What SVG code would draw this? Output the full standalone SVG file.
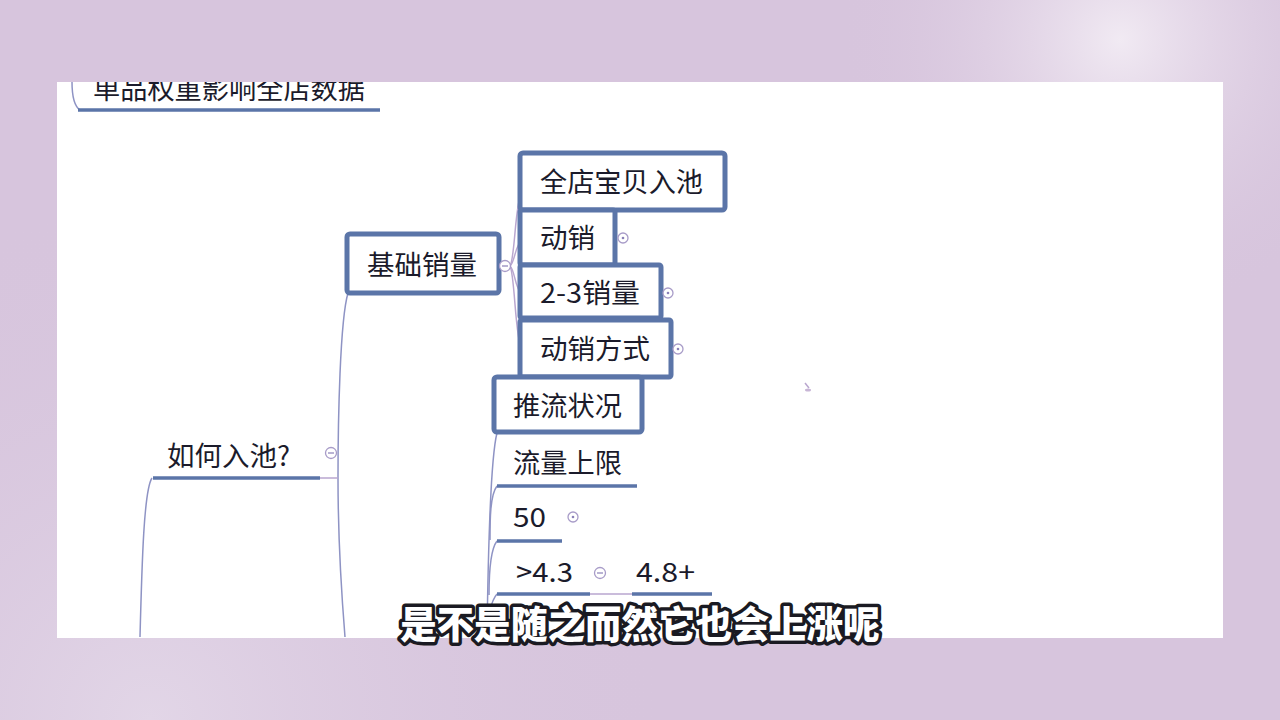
<svg xmlns="http://www.w3.org/2000/svg" width="1280" height="720" viewBox="0 0 1280 720">
<defs>
<radialGradient id="glowTR" cx="1120" cy="40" r="280" gradientUnits="userSpaceOnUse">
<stop offset="0" stop-color="#f1eaf3"/><stop offset="1" stop-color="#d7c5dd" stop-opacity="0"/>
</radialGradient>
<radialGradient id="glowBL" cx="150" cy="720" r="520" gradientUnits="userSpaceOnUse">
<stop offset="0" stop-color="#e2d6e7"/><stop offset="1" stop-color="#d7c5dd" stop-opacity="0"/>
</radialGradient>
<clipPath id="panel"><rect x="57" y="82" width="1166" height="556"/></clipPath>
<style>
.t{font-family:"Noto Sans CJK SC","Noto Sans",sans-serif;fill:#1b1b2b;font-size:27px;}
.box{fill:#ffffff;stroke:#5b75a8;stroke-width:5;}
.ul{stroke:#5b75a8;stroke-width:3.5;fill:none;}
.thin{stroke:#b9a6cf;stroke-width:1.5;fill:none;}
.vln{stroke:#8e93c4;stroke-width:1.5;fill:none;}
.tog{fill:#fff;stroke:#a89cc8;stroke-width:1.3;}
.sub{font-family:"Noto Sans CJK SC",sans-serif;font-weight:900;font-size:38px;fill:#ffffff;stroke:#1a1a22;stroke-width:7;paint-order:stroke;stroke-linejoin:round;}
</style>
</defs>
<rect width="1280" height="720" fill="#d7c5dd"/>
<rect width="1280" height="720" fill="url(#glowTR)"/>
<rect width="1280" height="720" fill="url(#glowBL)"/>
<rect x="57" y="82" width="1166" height="556" fill="#ffffff"/>

<g clip-path="url(#panel)">
<g id="connectors">
<path class="vln" d="M72,82 C72,96 74,106 80,110"/>
<path class="vln" d="M152,478 C144,490 142,560 140,637"/>
<path class="vln" d="M348,293 C340,320 338,420 338,478 C338,540 342,600 345,637"/>
<path class="thin" d="M320,478 L338,478"/>
<path class="thin" d="M500,266 L508,266 M510,266 C515,260 515,200 522,192"/>
<path class="thin" d="M510,266 C515,262 515,245 522,240"/>
<path class="thin" d="M510,266 C515,270 515,290 522,294"/>
<path class="thin" d="M510,266 C515,275 515,340 522,350"/>
<path class="vln" d="M497,433 C490,460 488,560 487,637"/>
<path class="vln" d="M497,486 C490,495 490,520 490,540"/>
<path class="vln" d="M497,541 C490,550 489,575 489,595"/>
<path class="vln" d="M497,594 C490,602 488,620 488,637"/>
<path class="thin" d="M590,594 L632,594"/>
</g>

<g id="n-top">
<text class="t" x="93" y="99" textLength="272" lengthAdjust="spacingAndGlyphs">单品权重影响全店数据</text>
<line class="ul" x1="78" y1="110" x2="380" y2="110"/>
</g>
</g>

<g id="n-ruchi">
<text class="t" x="167" y="466" textLength="123" lengthAdjust="spacingAndGlyphs">如何入池?</text>
<line class="ul" x1="153" y1="478" x2="320" y2="478"/>
<circle class="tog" cx="331" cy="453" r="5.5"/><line x1="328" y1="453" x2="334" y2="453" stroke="#8a80b8" stroke-width="1.2"/>
</g>

<g id="n-jichu">
<rect class="box" x="347" y="234" width="152" height="59" rx="3"/>
<text class="t" x="367" y="275" textLength="110" lengthAdjust="spacingAndGlyphs">基础销量</text>
<circle class="tog" cx="505" cy="266" r="5.5"/><line x1="502" y1="266" x2="508" y2="266" stroke="#8a80b8" stroke-width="1.2"/>
</g>

<g id="n-quandian">
<rect class="box" x="520" y="153" width="205" height="57" rx="3"/>
<text class="t" x="540" y="192" textLength="163" lengthAdjust="spacingAndGlyphs">全店宝贝入池</text>
</g>

<g id="n-dongxiao">
<rect class="box" x="520" y="210" width="95" height="55" rx="2"/>
<text class="t" x="540" y="248" textLength="55" lengthAdjust="spacingAndGlyphs">动销</text>
<circle class="tog" cx="623" cy="238" r="5"/><circle cx="623" cy="238" r="1.3" fill="#8a80b8"/>
</g>

<g id="n-23">
<rect class="box" x="520" y="265" width="141" height="53" rx="2"/>
<text class="t" x="540" y="303" textLength="100" lengthAdjust="spacingAndGlyphs">2-3销量</text>
<circle class="tog" cx="668" cy="293" r="5"/><circle cx="668" cy="293" r="1.3" fill="#8a80b8"/>
</g>

<g id="n-fangshi">
<rect class="box" x="520" y="320" width="151" height="57" rx="2"/>
<text class="t" x="540" y="359" textLength="110" lengthAdjust="spacingAndGlyphs">动销方式</text>
<circle class="tog" cx="678" cy="349" r="5"/><circle cx="678" cy="349" r="1.3" fill="#8a80b8"/>
</g>

<g id="n-tuiliu">
<rect class="box" x="494" y="377" width="148" height="55" rx="3"/>
<text class="t" x="513" y="416" textLength="109" lengthAdjust="spacingAndGlyphs">推流状况</text>
</g>

<g id="n-liuliang">
<text class="t" x="513" y="473" textLength="109" lengthAdjust="spacingAndGlyphs">流量上限</text>
<line class="ul" x1="497" y1="486" x2="637" y2="486" stroke-width="3"/>
</g>

<g id="n-50">
<text class="t" x="513" y="527" textLength="33" lengthAdjust="spacingAndGlyphs">50</text>
<line class="ul" x1="497" y1="541" x2="562" y2="541" stroke-width="3"/>
<circle class="tog" cx="573" cy="517" r="5"/><circle cx="573" cy="517" r="1.3" fill="#8a80b8"/>
</g>

<g id="n-43">
<text class="t" x="516" y="582" textLength="57" lengthAdjust="spacingAndGlyphs">&gt;4.3</text>
<line class="ul" x1="497" y1="594" x2="590" y2="594" stroke-width="3"/>
<circle class="tog" cx="600" cy="573" r="5.5"/><line x1="597" y1="573" x2="603" y2="573" stroke="#8a80b8" stroke-width="1.2"/>
</g>

<g id="n-48">
<text class="t" x="636" y="582" textLength="59" lengthAdjust="spacingAndGlyphs">4.8+</text>
<line class="ul" x1="632" y1="594" x2="712" y2="594" stroke-width="3"/>
</g>

<path d="M805,383 L809,388" stroke="#b9a6cf" stroke-width="1.5"/>
<ellipse cx="808" cy="390" rx="3" ry="1.5" fill="#c8b6d6"/>

<text class="sub" x="400" y="638" textLength="480" lengthAdjust="spacingAndGlyphs">是不是随之而然它也会上涨呢</text>
</svg>
